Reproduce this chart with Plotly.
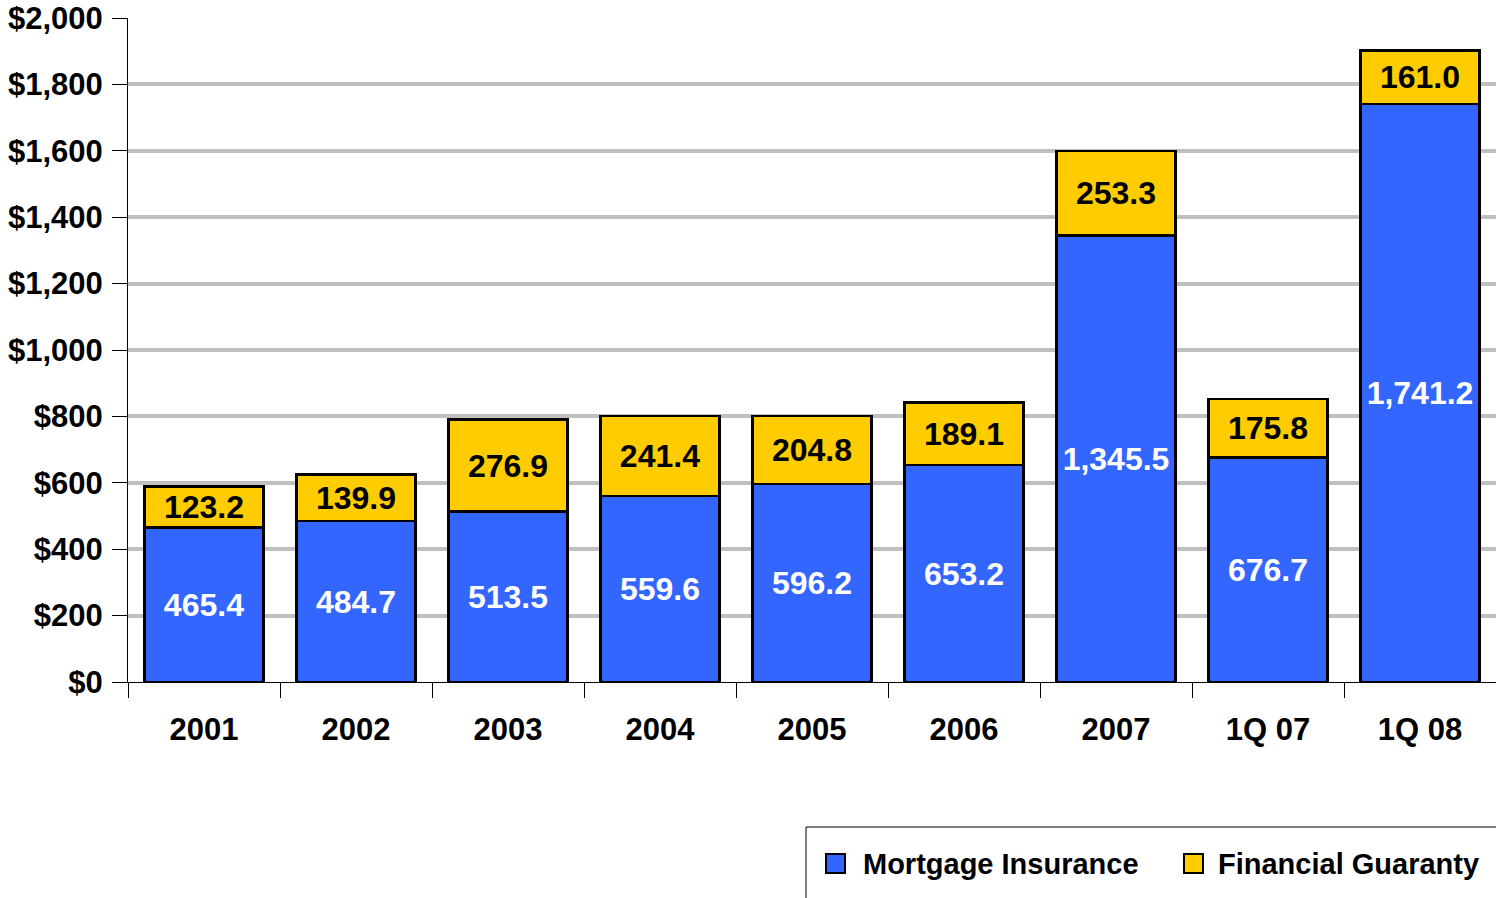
import plotly.graph_objects as go

# Revenue by segment ($ millions)
categories = ["2001", "2002", "2003", "2004", "2005", "2006", "2007", "1Q 07", "1Q 08"]
mortgage_insurance = [465.4, 484.7, 513.5, 559.6, 596.2, 653.2, 1345.5, 676.7, 1741.2]
financial_guaranty = [123.2, 139.9, 276.9, 241.4, 204.8, 189.1, 253.3, 175.8, 161.0]
y_ticks = [0, 200, 400, 600, 800, 1000, 1200, 1400, 1600, 1800, 2000]

BLUE = "#3366FF"
GOLD = "#FFCC00"
FONT = "Liberation Sans, Arial, sans-serif"

W, H = 1496, 898
L, R, T, B = 128, 0, 18, 216

fig = go.Figure()
fig.add_trace(go.Bar(
    x=categories, y=mortgage_insurance, name="Mortgage Insurance",
    marker=dict(color=BLUE, line=dict(color="black", width=2.5)),
    texttemplate="<b>%{y:,.1f}</b>", textposition="inside",
    insidetextanchor="middle", textangle=0,
    textfont=dict(family=FONT, size=32, color="white"),
))
fig.add_trace(go.Bar(
    x=categories, y=financial_guaranty, name="Financial Guaranty",
    marker=dict(color=GOLD, line=dict(color="black", width=2.5)),
    texttemplate="<b>%{y:,.1f}</b>", textposition="inside",
    insidetextanchor="middle", textangle=0,
    textfont=dict(family=FONT, size=32, color="black"),
))


def px_x(px):
    return (px - L) / (W - L - R)


def px_y(py):
    return (H - B - py) / (H - T - B)


# Legend box and entries drawn in paper space
shapes = [
    dict(type="rect", xref="paper", yref="paper",
         x0=px_x(806), x1=px_x(1520), y0=px_y(827), y1=px_y(920),
         line=dict(color="black", width=1), fillcolor="rgba(0,0,0,0)", layer="above"),
]
annotations = []
legend_items = [("Mortgage Insurance", BLUE, 826, 861), ("Financial Guaranty", GOLD, 1184, 1216)]
for label, color, sq_x, tx_x in legend_items:
    shapes.append(dict(type="rect", xref="paper", yref="paper",
                       x0=px_x(sq_x), x1=px_x(sq_x + 19), y0=px_y(854), y1=px_y(873),
                       line=dict(color="black", width=2), fillcolor=color, layer="above"))
    annotations.append(dict(xref="paper", yref="paper", x=px_x(tx_x), y=px_y(864),
                            text=f"<b>{label}</b>", showarrow=False,
                            xanchor="left", yanchor="middle",
                            font=dict(family=FONT, size=29, color="black")))

fig.update_layout(
    width=W, height=H,
    margin=dict(l=L, r=R, t=T, b=B, pad=0),
    barmode="stack", bargap=0.22,
    plot_bgcolor="white", paper_bgcolor="white",
    showlegend=False,
    uniformtext=dict(minsize=32, mode="show"),
    font=dict(family=FONT, size=31, color="black"),
    shapes=shapes, annotations=annotations,
    xaxis=dict(
        type="category", showline=True, linecolor="black", linewidth=1,
        ticks="outside", tickson="boundaries", ticklen=15, tickcolor="black", tickwidth=1,
        ticklabelstandoff=20,
        tickfont=dict(family=FONT, size=31, color="black"),
        tickvals=categories, ticktext=[f"<b>{c}</b>" for c in categories],
        showgrid=False,
    ),
    yaxis=dict(
        range=[0, 2000], showline=True, linecolor="black", linewidth=1,
        ticks="outside", ticklen=15, tickcolor="black", tickwidth=1,
        ticklabelstandoff=3,
        tickvals=y_ticks, ticktext=[f"<b>${v:,}</b>" for v in y_ticks],
        tickfont=dict(family=FONT, size=31, color="black"),
        showgrid=True, gridcolor="#C0C0C0", gridwidth=4, zeroline=False,
    ),
)

fig.write_html("out.html")
